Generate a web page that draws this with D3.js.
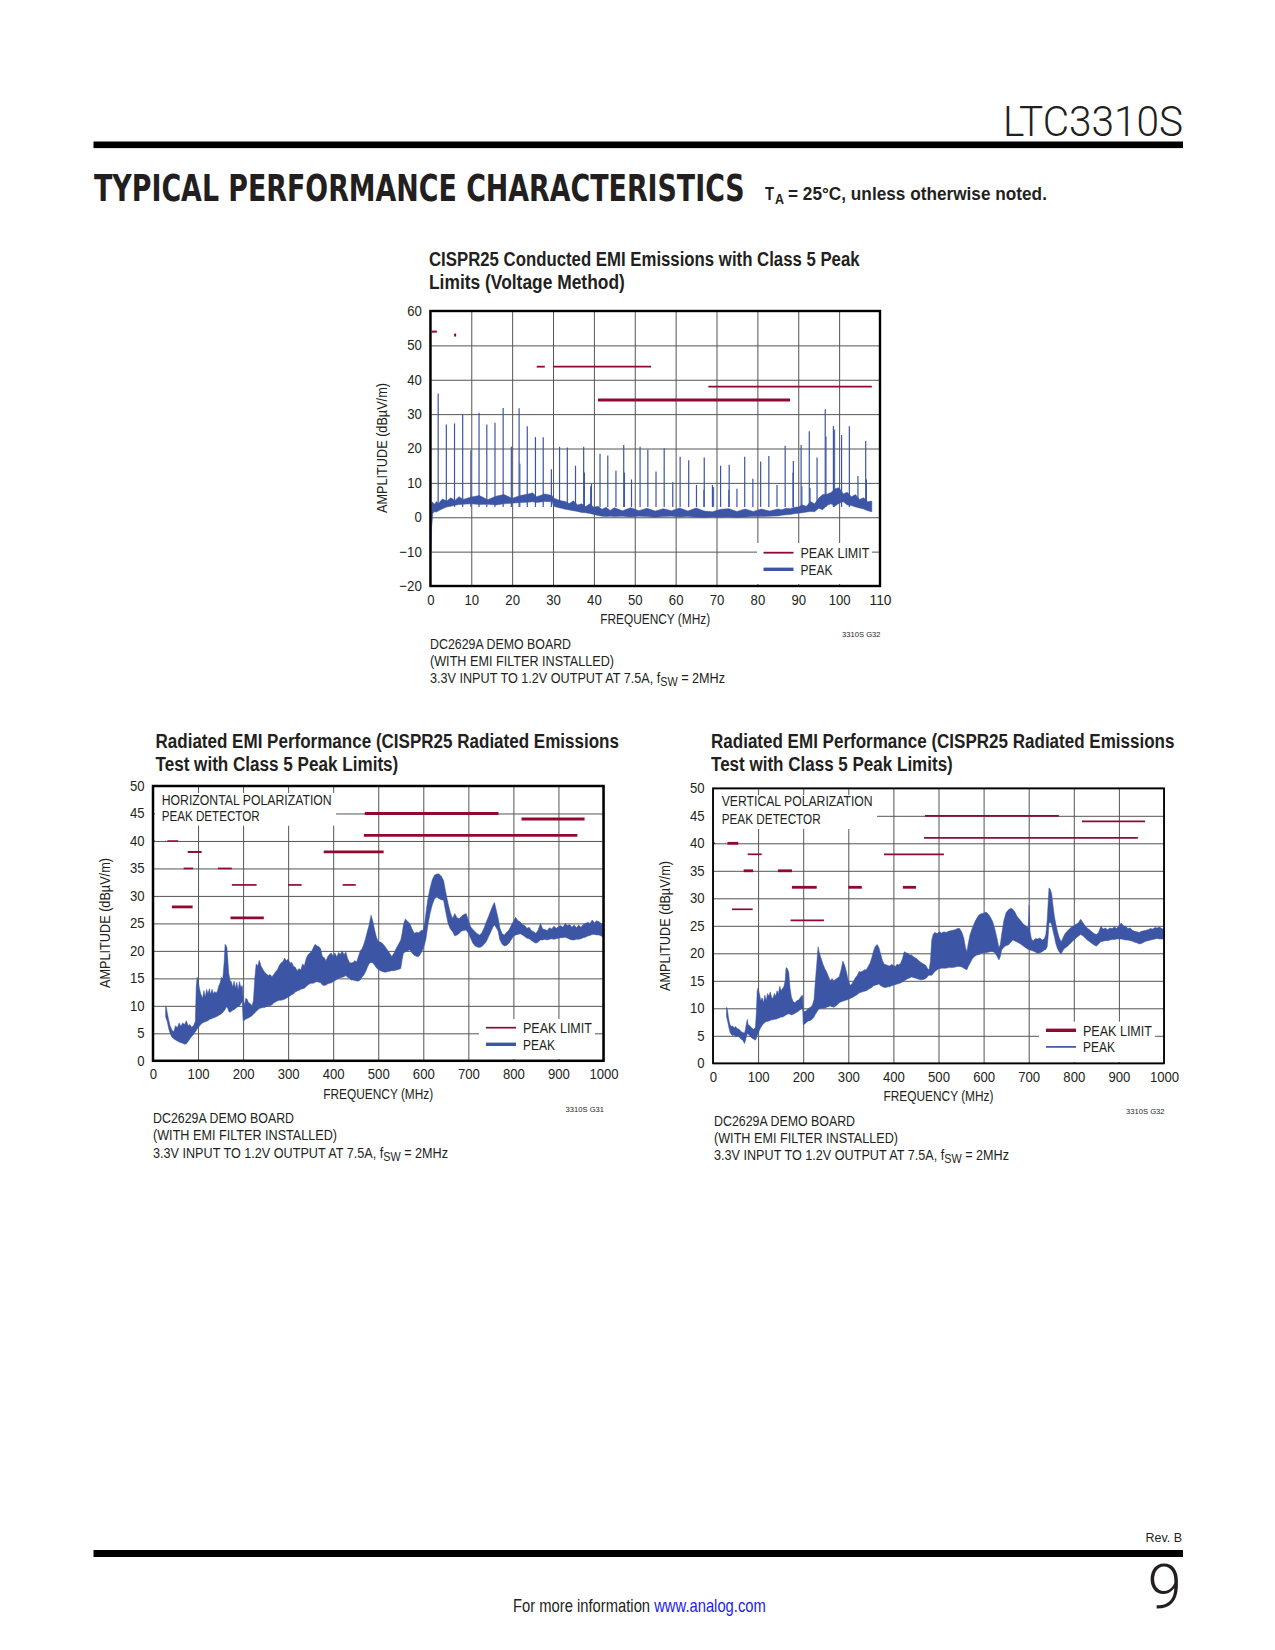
<!DOCTYPE html>
<html><head><meta charset="utf-8">
<script src="https://cdn.jsdelivr.net/npm/d3@7/dist/d3.min.js"></script>
<style>
html,body{margin:0;padding:0;background:#fff}
svg{display:block}
text{font-family:"Liberation Sans",sans-serif;fill:#231f20}
</style></head><body><div id="chart"></div>
<script>
// ---------- Conducted EMI chart data ----------
const condTicksX=[0,10,20,30,40,50,60,70,80,90,100,110];
const condTicksY=[-20,-10,0,10,20,30,40,50,60];
const condF =[0.1,0.3,0.6,1,1.5,2,2.5,3,4,5,6,7,8,10,12,14,16,18,20,22,24,25,26,28,29.8,30.1,31,32,33,34,35,36,37,38,39,40,41,42,43,44,45,47,49,51,53,55,57,59,61,63,65,67,69,71,73,75,77,79,81,83,85,86,87,88,89,90,91,92,93,94,95,96,97,98,99,100,101,102,103,104,105,106,107,108];
const condLow =[-10,-3,1.2,1.6,1.5,1.9,2.2,2.5,3,3.2,3.5,3.7,3.8,3.9,3.7,3.8,3.6,3.9,4.1,4.3,4.4,4.5,4.3,4.6,4.5,3.2,2.9,2.6,2.3,2.1,1.9,1.7,1.4,1.3,1.1,0.8,0.5,0.3,0.2,0.3,0.2,0.3,0.1,0.3,0.2,0,0.2,0.3,0.1,0.2,0,-0.1,0.1,0,0.1,-0.1,0.1,0.2,0.2,0.3,0.4,0.6,0.7,0.8,1,1.2,1.3,1.5,1.7,1.6,2.6,2.2,3.4,3.9,3.3,4.1,4.5,3.6,3.4,3,2.7,2.4,1.9,1.6,1.3,1.1];
const condHigh=[0,4.5,4.3,3.8,4.6,3.9,4.8,5.3,4.7,5.7,4.9,6,5.2,5.9,6.3,5.1,6.1,6.6,5.5,6.3,6.8,7.1,6,6.8,6.3,5.6,5.2,4.8,4.6,4,4.8,3.6,3.9,3.1,3.9,2.9,3.2,2.3,2.9,2,2.8,1.9,2.8,1.9,2.6,1.8,2.5,1.9,2.7,1.8,2.7,1.8,1.6,2.3,2.5,1.7,2.4,1.7,2.4,1.8,2.4,2.2,2.6,2.5,2.9,3,3.6,3.2,4.6,3.9,5.6,6.6,6.7,7.2,8.3,8.6,6.8,7.3,6,6.6,5.2,5.7,4.5,4.7,4,3.5];
const condSpikeF=[1.9,3.9,5.9,7.9,9.9,11.9,13.8,15.8,17.8,19.8,21.7,23.7,25.7,27.6,29.6,31.6,33.5,35.5,37.5,39.4,41.5,43.4,45.4,47.3,49.2,51.3,53.2,55.2,57.2,59.3,61.1,63.2,65.1,67,69,71,73.1,75,76.9,78.9,80.8,82.8,84.8,86.8,88.8,90.7,92.7,94.6,96.6,98.6,100.6,102.5,104.6,106.5];
const condSpikeV=[36,27,27.3,29.8,19.5,30.4,27,27.5,31.8,20.5,31.7,26.5,23.3,23.3,14,20.5,20.3,15,20.5,9.8,18.5,18,13.5,21,11,20.5,19.7,13.3,20.1,10.2,17.6,16.6,9.4,17.4,9.4,15,15.3,8.3,17.6,11.2,16.2,17.8,9.4,20.8,16.4,21,25,17.4,31.4,26.5,23.9,26.5,12,22.2];
const condMinorF=[21.9,37.7,39.2,47.5,66.9,69.3,73,88.7,90.9,92.9,96.8,98.9,106.7];
const condMinorV=[15.6,13,9,13,8,8.8,8,13,9,8.5,23.5,25.5,11];
const condLimits=[[0.3,1.6,54,2],[5.8,6.3,53,3],[26,28,43.8,1.8],[30,54,43.8,1.8],[41,88,34.1,3],[68,108,38,1.8]];
// ---------- Radiated EMI chart data ----------
const radTicksX=[0,100,200,300,400,500,600,700,800,900,1000];
const radTicksY=[0,5,10,15,20,25,30,35,40,45,50];
const horF=[28,30,32,35,38,42,46,50,54,58,62,66,70,74,78,82,86,90,94,96,
98,100,103,106,110,113,116,119,122,125,128,131,134,137,140,143,146,149,152,155,
158,160,162,164,166,168,171,174,177,180,183,186,189,192,195,198,199,200,203,206,
209,212,216,220,223,226,229,232,236,240,244,248,252,256,260,264,268,272,276,280,
284,288,292,296,300,304,308,312,316,320,324,328,332,336,340,344,348,352,356,360,
364,368,372,376,380,384,388,392,396,400,404,408,412,416,420,424,428,432,436,440,
444,448,452,456,460,464,468,472,476,480,484,488,492,496,500,505,510,515,520,525,
530,535,540,545,550,553,556,560,565,570,575,580,585,590,595,600,603,606,610,615,
620,625,630,635,640,645,650,655,660,665,670,675,680,685,690,695,700,705,710,715,
720,725,730,735,740,745,750,755,758,762,766,770,775,780,785,790,795,800,805,810,
815,820,825,830,835,840,845,850,855,860,865,870,875,880,885,890,895,900,905,910,
915,920,925,930,935,940,945,950,955,960,965,970,975,980,985,990,995,998];
const horHigh=[10,9.6,8.6,7.4,6.4,5.6,5.3,6.4,6.0,6.9,6.3,6.9,6.6,7.3,6.4,6.6,6.1,6.4,7.2,13.5,
15.2,14.6,13.2,12.2,11.4,12.8,11.6,13,12.2,13.1,12.1,13,12.2,12.6,12.3,12.7,13.6,14.2,15.2,14.9,
18,21.2,21,20.6,18.5,16,14.6,14.4,13.4,14.5,13.2,14.3,12.9,14.4,13.4,13.7,13,11,10.2,11.4,
11.2,10.6,10.4,10,11,15,17.6,17.2,18.3,17.2,16.6,16.1,15.8,15.5,15.7,15.3,15.7,16.2,16.5,17.3,
17.8,18,18.7,18.2,18.5,17.8,17.9,17.2,17,16.4,16.8,16.5,17.6,17.3,18.6,19.3,19.6,19.9,20.6,21.2,
20.9,20.8,20.4,19,18.8,18.2,19,19.4,19.6,19,19.6,18.9,19.7,19.4,20,19.3,19.8,18.6,17.9,17.8,
17.9,18.2,18,19,20,20.4,21.2,22.3,23.6,24.8,26.5,25.4,23.8,22.5,21.7,21.6,21.3,20.8,20.2,19.6,
19,19.6,20.5,21.2,22,23.2,24.8,25.8,25.4,25,24,23.2,23.4,23.3,23.7,23.8,25,27,29.4,31.4,
33,33.8,34,34,33.6,32.8,30.6,28.6,27,25.9,26.8,26,25.9,26.3,26.6,26.8,25.6,24.4,23.9,23.5,
23.1,22.9,23.3,24.2,25.3,26.3,27.4,28.4,28.8,27.4,26,24.2,23.1,22.9,23.4,23.8,24.6,25.4,26.1,25.5,
25.3,24.8,24.6,24.1,24.3,23.7,23.5,23.2,23.8,25,24,23.9,23.7,24.2,24,24.5,24.1,24.4,24.6,24.3,
25,24.6,24.8,24.3,24.7,24.2,24.7,24.3,24.8,25,25.2,25,25.6,25.1,25.5,25.3,25,24.7];
const horLow=[8,7.5,7,5.8,5,4.3,4,3.8,3.6,3.4,3.3,3.2,3,3.1,3.5,4,4.4,4.8,5.3,5.5,
5.8,6,6.3,6.6,6.9,7,7.1,7.2,7.3,7.5,7.6,7.7,7.8,7.9,8,8.1,8.3,8.4,8.6,8.8,
9.1,9.3,9.7,9.8,9.5,9,8.8,9,9.2,9.3,9.5,9.7,9.9,10,10.4,10.8,9,7.3,7.4,7.6,
7.7,7.8,8,8.2,8.5,8.7,9,9.2,9.5,9.6,9.7,9.7,9.9,10,10,10.2,10.5,10.7,10.9,11,
11,11.1,11.2,11.4,11.6,11.8,12,12.2,12.5,12.7,12.8,13,13.1,13.2,13.5,13.8,14,14.1,14.1,14.3,
14.4,14.3,14.2,13.8,13.7,13.8,14,14.1,14.2,14.4,14.6,14.8,15,15.1,15.2,15.3,15.5,15.2,15,14.7,
14.7,14.6,14.5,14.5,14.7,15.2,15.6,16.2,17,17.7,17.9,17.8,17.4,16.9,16.6,16.4,16.2,16.1,16.2,16.3,
16.4,16.4,16.5,16.6,16.8,18.4,19.6,19.8,20,20.2,19.6,19.2,19,19,19.6,20.5,21.2,22.2,24.6,26.8,
28.4,29.5,29.8,29.5,29.3,29.2,27,25,24,23.5,22.7,22.9,23.2,23.6,23.7,23.8,23.2,22.3,21.4,20.9,
20.7,20.6,20.8,21.2,21.7,22.6,23.5,24.4,24.7,24.2,23.6,22,21.2,20.9,21,21.4,22,22.6,22.9,23,
23.1,22.9,22.6,22.3,22.2,21.9,21.6,21.4,21.6,22,22,22.1,22,22.1,22.2,22.1,22.2,22.3,22.4,22.4,
22.5,22.3,22.1,22,22,22.1,22.1,22.2,22.4,22.5,22.7,22.8,23,23,22.9,22.9,22.7,22.6];
const verF=[30,32,34,36,38,41,44,47,50,54,58,62,66,70,72,74,76,78,82,86,
90,94,96,98,100,103,106,109,112,115,118,121,124,127,130,133,136,139,142,145,
148,151,154,157,160,162,165,168,171,174,178,182,186,190,194,198,199,200,204,208,
212,216,220,224,227,230,233,236,240,244,248,252,256,260,264,268,272,276,280,284,
288,292,296,300,304,308,312,316,320,324,328,332,336,340,344,348,352,356,360,364,
368,372,376,380,384,388,392,396,400,404,408,412,416,420,424,428,432,436,440,444,
448,452,456,460,464,468,472,476,479,482,485,488,492,497,502,507,512,517,522,527,
532,537,542,547,552,556,560,563,566,570,575,580,585,590,595,600,605,610,615,620,
625,630,634,637,640,645,650,655,660,665,670,675,680,685,690,695,699,701,703,706,
710,715,720,725,730,735,738,741,743,745,748,751,754,757,760,764,768,772,776,780,
785,790,795,800,805,810,815,820,825,830,835,840,845,850,855,860,865,870,875,880,
885,890,895,900,905,910,915,920,925,930,935,940,945,950,955,960,965,970,975,980,
985,990,995,998];
const verHigh=[10.2,9.8,8.5,7.6,7,6.7,6.8,6.4,6.7,6.3,6.2,5.8,5.6,5.5,6.2,7.2,8,7,6.8,6.4,
6.2,6.5,9,13.2,13.7,12.6,11.4,11.9,11,12.4,11.4,12.7,12.2,13,12,11.8,12.7,12.2,13.2,12.6,
14,13.2,13.6,13.9,15,17.4,17.2,16.5,13.6,12,11.2,11,11.4,11.5,12,12.4,12,9.5,9.4,9.7,
10,10.2,10.5,11.6,15,18,21.2,20,19,18,17.2,16.6,15.8,15,15.4,15,15.3,15.5,15.8,17,
18.6,17.8,16.6,15,14.2,14.4,15,15.6,16,16.7,16.6,16.8,17,17,17.6,18.2,19.2,20.4,21.3,21.6,
21,19.8,18.6,18,17.9,17.8,17.7,18,17.8,17.6,18,17.9,18.2,19,20.3,20.1,20,19.7,19.7,19.4,
19.2,19,18.7,18.4,18.2,18,17.8,17.2,17,18.5,22.4,23.4,23.8,23.6,23.9,23.7,23.9,23.8,24,24.1,
24.2,24.3,24.5,24.5,23.8,22.8,21,20.3,21.8,23.4,24.6,25.6,26.4,27,27.2,27.3,27.5,27.2,26.6,25.8,
24.4,22.6,21,21.6,23.4,26,27.4,27.9,28.2,28,27.4,26.6,26.2,25.6,25.2,24.9,24.6,28.8,24,22.6,
22.3,22.7,22.6,22.8,22.4,22.7,23.4,26,29,31.9,31.6,30.8,28.6,26.7,25.4,23.9,22.8,22.1,22.8,23.5,
24,24.4,24.8,25,25.3,25.5,26.2,25.6,25,24.6,24.3,23.9,23.6,23.4,23.8,24.9,24.4,24.6,24.3,24.6,
24.5,24.8,24.5,25,25.5,25,24.9,24.5,24.6,24.2,24,23.9,23.8,24,24.1,24.2,24.3,24.5,24.4,24.7,
24.6,24.8,24.5,24.4];
const verLow=[8.5,7.8,7,6.2,5.6,5.2,5,5.2,4.8,4.9,4.8,4.4,4.2,3.6,4.2,4.8,5.4,5.3,5,4.6,
4.4,4.2,4.5,5,5.5,6,6.5,6.9,7.2,7.4,7.6,7.6,7.7,7.8,7.9,7.9,8,8,8.1,8.2,
8.3,8.4,8.4,8.5,8.7,8.8,8.9,9,8.9,8.8,8.9,9.1,9.3,9.5,9.8,10,9.7,7,7.2,7.5,
7.7,7.8,8,8.4,8.9,9.3,9.7,9.9,10,10,10,10.2,10.3,10.4,10.3,10.2,10.4,10.7,11,11.2,
11.3,11.4,11.5,11.6,11.8,11.9,12.1,12.3,12.5,12.8,12.9,13,13.1,13.2,13.4,13.6,13.8,14.1,14.2,14.3,
14.4,14.1,13.9,13.8,13.8,13.9,13.9,14.1,14.2,14.3,14.4,14.5,14.6,14.8,15,15.2,15.4,15.5,15.7,15.6,
15.5,15.4,15.3,15.2,15.2,15.3,15.4,15.8,16,16,16,16.3,16.7,17,17.2,17.3,17.3,17.3,17.4,17.4,
17.4,17.5,17.6,17.6,17.5,17.3,17.1,17,17.6,18.2,19,19.4,19.7,19.8,20,20.1,20.1,20.2,20.3,20.3,
20.1,19.4,18.8,19.4,20.6,21.1,21.4,21.5,22,22.4,22.2,22,21.8,21.5,21.2,20.9,20.7,20.7,20.6,20.5,
20.4,20.2,20,20.1,20.3,20.6,20.7,21.2,23,25.5,25.6,25.2,24,23,21.8,20.8,20.2,19.9,20.5,20.9,
21.2,21.6,22,22.4,22.8,23.1,23.4,23.2,22.8,22.4,22.1,21.8,21.5,21.3,21.7,22.1,22.2,22.3,22.3,22.4,
22.5,22.5,22.6,22.6,22.6,22.5,22.4,22.4,22.3,22.2,22,21.9,21.7,21.8,22,22.2,22.3,22.4,22.5,22.6,
22.7,22.6,22.6,22.6];
const horLimitF=[[0,4,40],[27,28,40],[32,56,40],[77,108,38],[68,89,35],[144,175,35],[175,230,32],[300,330,32],[421,450,32],[42,88,28],[172,246,26],[379,512,38],[470,767,45],[468,942,41],[818,958,44]];
const horLimitW=[1,1,1.4,2,1.7,1.7,1.7,1.7,1.7,2.8,2.8,2.8,2.8,2.8,2.8];
const verLimitW=[2,1,2.8,1.7,2.8,2.8,2.8,2.8,2.8,1.7,1.7,1.7,1.7,1.7,1.7];
const noteLines=["DC2629A DEMO BOARD","(WITH EMI FILTER INSTALLED)"];
const BLUE="#3c55a4",RED="#8f0a30";

const svg=d3.select("#chart").append("svg").attr("width",1275).attr("height",1650);
// squeeze a text to a target width with a real horizontal scale
function fit(t,x,y,w,rot){
  const sx=w/t.node().getComputedTextLength();
  t.attr("x",0).attr("y",0).attr("transform",`translate(${x},${y})${rot?` rotate(${rot})`:""} scale(${sx},1)`);
}
function T(x,y,s,size,o={}){
  const t=svg.append("text").attr("x",x).attr("y",y).attr("font-size",size).text(s);
  if(o.bold)t.attr("font-weight","bold");
  if(o.weight)t.attr("font-weight",o.weight);
  if(o.anchor)t.attr("text-anchor",o.anchor);
  if(o.font)t.style("font-family",o.font);
  if(o.w)fit(t,x,y,o.w);
  return t;
}
function note3(x,y){
  const t=svg.append("text").attr("font-size",15.2);
  t.append("tspan").text("3.3V INPUT TO 1.2V OUTPUT AT 7.5A, f");
  t.append("tspan").attr("dy",3).attr("font-size",13).text("SW");
  t.append("tspan").attr("dy",-3).text(" = 2MHz");
  fit(t,x,y,295);
}
function panel(c){
  const x=d3.scaleLinear().domain(c.dx).range([c.l,c.r]);
  const y=d3.scaleLinear().domain(c.dy).range([c.b,c.t]);
  const g=svg.append("g");
  g.append("g").attr("transform",`translate(0,${c.b})`)
    .call(d3.axisBottom(x).tickValues(c.tx).tickSize(-(c.b-c.t)).tickPadding(c.padX).tickFormat(d=>d));
  const gy=g.append("g").attr("transform",`translate(${c.l},0)`)
    .call(d3.axisLeft(y).tickValues(c.ty).tickSize(-(c.r-c.l)).tickPadding(c.padY).tickFormat(d=>d<0?"\u2212"+(-d):d));
  g.selectAll(".domain").remove();
  g.selectAll(".tick line").attr("stroke","#555").attr("stroke-width",1);
  g.selectAll(".tick text").attr("font-size",14.8)
    .style("font-family",'"Liberation Sans"').style("fill","#231f20")
    .attr("textLength",d=>(String(Math.abs(d)).length*7.3+(d<0?8:0)))
    .attr("lengthAdjust","spacingAndGlyphs");
  gy.selectAll(".tick text").attr("dy",".3em");
  c.boxes.forEach(b=>g.append("rect").attr("x",b[0]).attr("y",b[1]).attr("width",b[2]-b[0]).attr("height",b[3]-b[1]).attr("fill","#fff"));
  const area=d3.area().x(d=>x(d[0])).y0(d=>y(d[1])).y1(d=>y(d[2]));
  g.append("path").attr("d",area(d3.zip(c.f,c.low,c.high))).attr("fill",BLUE).attr("stroke",BLUE).attr("stroke-width",.5).attr("stroke-linejoin","round");
  if(c.spikeF){
    g.selectAll(null).data(d3.zip(c.spikeF,c.spikeV)).join("line")
      .attr("x1",d=>x(d[0])).attr("x2",d=>x(d[0])).attr("y1",y(3)).attr("y2",d=>y(d[1]))
      .attr("stroke",BLUE).attr("stroke-width",1.2);
    g.selectAll(null).data(d3.zip(c.minorF,c.minorV)).join("line")
      .attr("x1",d=>x(d[0])).attr("x2",d=>x(d[0])).attr("y1",y(3)).attr("y2",d=>y(d[1]))
      .attr("stroke",BLUE).attr("stroke-width",1);
  }
  g.selectAll(null).data(c.limits).join("line")
    .attr("x1",d=>x(d[0])).attr("x2",d=>x(d[1])).attr("y1",d=>y(d[2])).attr("y2",d=>y(d[2]))
    .attr("stroke",RED).attr("stroke-width",d=>d[3]);
  g.append("rect").attr("x",c.l).attr("y",c.t).attr("width",c.r-c.l).attr("height",c.b-c.t)
    .attr("fill","none").attr("stroke","#000").attr("stroke-width",c.frame);
  const L=c.legend;
  g.append("line").attr("x1",L.x).attr("x2",L.x+30).attr("y1",L.y).attr("y2",L.y).attr("stroke",RED).attr("stroke-width",L.w1);
  g.append("line").attr("x1",L.x).attr("x2",L.x+30).attr("y1",L.y+16.6).attr("y2",L.y+16.6).attr("stroke",BLUE).attr("stroke-width",L.w2);
  T(L.x+37,L.y+5.2,"PEAK LIMIT",15,{w:69});
  T(L.x+37,L.y+21.8,"PEAK",15,{w:32});
}
function chartText(c){
  T(c.titleX,c.titleY,c.title[0],20.5,{bold:1,w:c.titleW[0]});
  T(c.titleX,c.titleY+c.titleGap,c.title[1],20.5,{bold:1,w:c.titleW[1]});
  const yl=svg.append("text").attr("text-anchor","middle").attr("font-size",15).text("AMPLITUDE (dB\u00b5V/m)");
  fit(yl,c.ylx,c.yly,130,-90);
  T((c.l+c.r)/2,c.b+38,"FREQUENCY (MHz)",15,{anchor:"middle",w:110});
  T(c.r+.5,c.b+51,c.code,7.6,{anchor:"end"});
  T(c.noteX,c.b+c.noteDy,noteLines[0],15.2,{w:141});
  T(c.noteX,c.b+c.noteDy+17,noteLines[1],15.2,{w:184});
  note3(c.noteX,c.b+c.noteDy+c.note3Dy);
  if(c.anno){
    T(c.anno.x,c.anno.y1,c.anno.a,15.2,{w:c.anno.w1});
    T(c.anno.x,c.anno.y2,"PEAK DETECTOR",15.2,{w:c.anno.w2});
  }
}
// Page furniture
svg.append("rect").attr("x",93.5).attr("y",141.5).attr("width",1089.5).attr("height",6.6).attr("fill","#000");
svg.append("rect").attr("x",93.5).attr("y",1550).attr("width",1089.5).attr("height",7).attr("fill","#000");
T(1183,136,"LTC3310S",43,{anchor:"end",font:'Roboto',weight:300,w:180});
T(94,201,"TYPICAL PERFORMANCE CHARACTERISTICS",37,{bold:1,font:'"DejaVu Sans"',w:651});
T(765,200,"T",19,{bold:1,w:9});
T(775,204,"A",14,{bold:1,w:9});
T(788,200,"= 25\u00b0C, unless otherwise noted.",19,{bold:1,w:259});
T(1182,1542,"Rev. B",12.5,{anchor:"end"});
T(1182,1608,"9",62,{anchor:"end",font:'Roboto',weight:300});
const foot=svg.append("text").attr("font-size",17.5);
foot.append("tspan").text("For more information ");
foot.append("tspan").style("fill","#2222ee").text("www.analog.com");
fit(foot,513,1612,253);

const c1={l:430.4,r:880,t:311,b:586,dx:[0,110],dy:[-20,60],tx:condTicksX,ty:condTicksY,padX:8,padY:8.5,frame:2.4,
  f:condF,low:condLow,high:condHigh,spikeF:condSpikeF,spikeV:condSpikeV,minorF:condMinorF,minorV:condMinorV,limits:condLimits,
  boxes:[[757,543,872,584]],legend:{x:763.5,y:552.7,w1:1.8,w2:3.4},
  title:["CISPR25 Conducted EMI Emissions with Class 5 Peak","Limits (Voltage Method)"],titleX:429,titleY:265.5,titleGap:23.5,titleW:[431,196],
  ylx:387,yly:448,code:"3310S G32",noteX:430,noteDy:63,note3Dy:33.5};
panel(c1);chartText(c1);
const c2={l:153,r:603.5,t:786,b:1060.8,dx:[0,1000],dy:[0,50],tx:radTicksX,ty:radTicksY,padX:8,padY:8.5,frame:2.5,
  f:horF,low:horLow,high:horHigh,limits:horLimitF.map((d,i)=>[d[0],d[1],d[2],horLimitW[i]]),
  boxes:[[155,793,336,825.7],[479,1019,595,1059]],legend:{x:486,y:1027.7,w1:1.7,w2:3.4},
  title:["Radiated EMI Performance (CISPR25 Radiated Emissions","Test with Class 5 Peak Limits)"],titleX:155.5,titleY:748,titleGap:22.7,titleW:[464,243],
  ylx:110,yly:923,code:"3310S G31",noteX:153,noteDy:62,note3Dy:35,
  anno:{x:161.7,y1:805,y2:821,a:"HORIZONTAL POLARIZATION",w1:170,w2:98}};
panel(c2);chartText(c2);
const c3={l:713,r:1164,t:788.3,b:1063.3,dx:[0,1000],dy:[0,50],tx:radTicksX,ty:radTicksY,padX:8,padY:8.5,frame:1.8,
  f:verF,low:verLow,high:verHigh,limits:horLimitF.map((d,i)=>[d[0],d[1],d[2],verLimitW[i]]),
  boxes:[[714,795,877,829],[1039,1021.7,1155,1062]],legend:{x:1046,y:1030.3,w1:3.4,w2:1.7},
  title:["Radiated EMI Performance (CISPR25 Radiated Emissions","Test with Class 5 Peak Limits)"],titleX:711,titleY:748,titleGap:22.7,titleW:[464,242],
  ylx:670,yly:926,code:"3310S G32",noteX:714,noteDy:63,note3Dy:34,
  anno:{x:721.7,y1:806,y2:824,a:"VERTICAL POLARIZATION",w1:151,w2:99}};
panel(c3);chartText(c3);
</script></body></html>
